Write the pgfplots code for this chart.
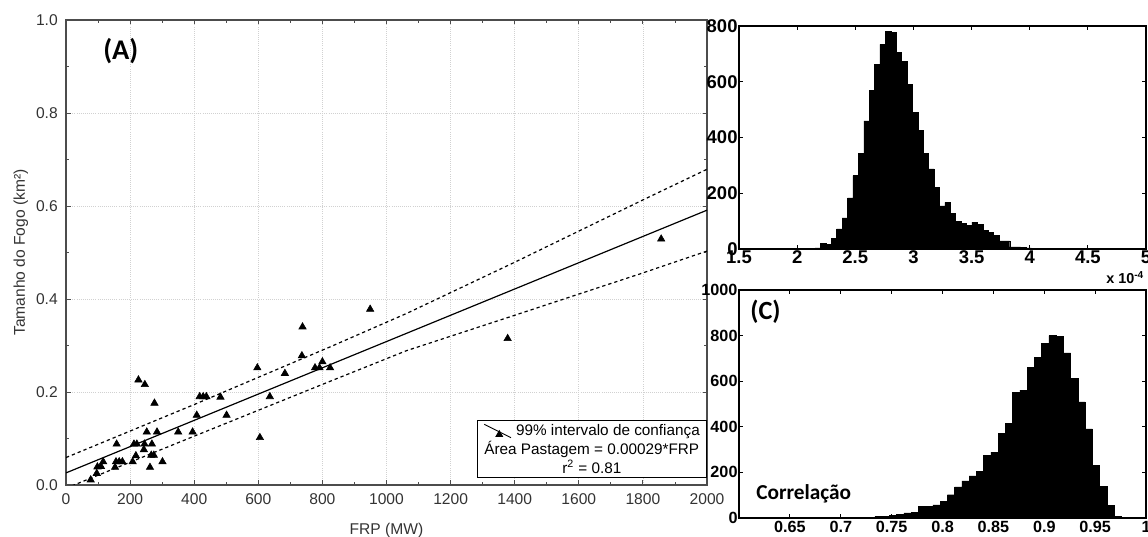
\documentclass[border=0pt]{standalone}
\usepackage{fontspec}
\setmainfont{Liberation Sans}
\newfontfamily\calibri{Carlito}
\usepackage{pgfplots}
\pgfplotsset{compat=1.18}

\begin{document}
\begin{tikzpicture}
% 1 pt = 1.5 px of the 1148x537 reference
\path[use as bounding box] (0pt,0pt) rectangle (765.33pt,358pt);

% ---------------- (A) scatter + regression ----------------
\begin{axis}[
  at={(44pt,34.67pt)}, anchor=south west,
  scale only axis, width=427.33pt, height=310pt,
  xmin=0, xmax=2000, ymin=0, ymax=1,
  xtick={0,200,...,2000}, ytick={0,0.2,0.4,0.6,0.8,1.0},
  minor x tick num=1, minor y tick num=1,
  tick align=inside, major tick length=3pt, minor tick length=2pt,
  grid=major, grid style={densely dotted, black!18, line width=0.5pt},
  axis line style={black!70, line width=0.9pt},
  tick style={black!70, line width=0.6pt},
  /pgf/number format/assume math mode=true,
  /pgf/number format/1000 sep={},
  yticklabel style={/pgf/number format/fixed, /pgf/number format/fixed zerofill,
                    /pgf/number format/precision=1, xshift=-2pt},
  tick label style={font=\fontsize{10.4}{12}\selectfont, text=black!80},
  xticklabel style={yshift=-2pt},
  label style={font=\fontsize{10.4}{12}\selectfont, text=black!80},
  xlabel={FRP (MW)}, ylabel={Tamanho do Fogo (km²)},
  xlabel style={at={(axis description cs:0.5,-0.1054)}, anchor=base},
  ylabel style={at={(axis description cs:-0.064,0.5)}, anchor=base},
]
\addplot[black, line width=0.8pt] coordinates {(0,0.026) (2000,0.591)};
\addplot[black, line width=0.8pt, dash pattern=on 2.2pt off 2pt] coordinates {
  (0,0.059) (400,0.173) (824,0.297) (1063,0.369) (1400,0.479) (1791,0.610) (2000,0.679)};
\addplot[black, line width=0.8pt, dash pattern=on 2.2pt off 2pt] coordinates {
  (0,-0.007) (400,0.105) (824,0.223) (1063,0.289) (1400,0.365) (1791,0.454) (2000,0.503)};
\addplot[only marks, mark=triangle*, mark size=2.8pt, mark options={fill=black, draw=black}] coordinates {
  (77,0.011) (96,0.025) (98,0.039) (109,0.040) (116,0.050)
  (153,0.038) (156,0.050) (158,0.088) (166,0.050) (176,0.050)
  (208,0.050) (212,0.088) (221,0.088) (218,0.063) (226,0.226)
  (246,0.216) (243,0.076) (245,0.088) (252,0.114) (262,0.038)
  (266,0.064) (268,0.088) (274,0.064) (276,0.176) (284,0.114)
  (301,0.050) (350,0.114) (395,0.114) (408,0.150) (417,0.190)
  (428,0.190) (438,0.190) (482,0.189) (501,0.150) (597,0.252)
  (605,0.102) (636,0.190) (683,0.240) (736,0.278) (738,0.340)
  (777,0.252) (791,0.252) (800,0.265) (824,0.252) (949,0.378)
  (1378,0.315) (1857,0.529)
};
\node[draw=black, line width=0.6pt, fill=white, anchor=south east, align=center,
      inner xsep=4.5pt, inner ysep=2.5pt, font=\fontsize{10.2}{12.7}\selectfont]
  (leg) at (rel axis cs:1,0.0157)
  {\hspace*{21.5pt}99\% intervalo de confiança\\Área Pastagem = 0.00029*FRP\\r\textsuperscript{2} = 0.81};
\end{axis}
% legend glyph: line with triangle
\draw[black, line width=0.6pt] ([shift={(5.1pt,-2.9pt)}]leg.north west) -- ([shift={(22.9pt,-11.8pt)}]leg.north west);
\fill[black] ([shift={(12.4pt,-11.3pt)}]leg.north west) -- ([shift={(17.8pt,-11.3pt)}]leg.north west)
  -- ([shift={(15.1pt,-6.6pt)}]leg.north west) -- cycle;

\node[anchor=base west, inner sep=0pt, font=\calibri\bfseries\fontsize{19}{22}\selectfont] at (68.67pt,318pt) {(A)};

% ---------------- top-right histogram ----------------
\begin{axis}[
  at={(492.67pt,192pt)}, anchor=south west,
  scale only axis, width=271.33pt, height=148.67pt,
  xmin=1.5, xmax=5, ymin=0, ymax=800,
  xtick={1.5,2,2.5,3,3.5,4,4.5,5}, ytick={0,200,400,600,800},
  tick align=inside, major tick length=2.7pt,
  axis line style={black, line width=0.7pt},
  tick style={black, line width=0.6pt},
  /pgf/number format/assume math mode=true,
  tick label style={font=\bfseries\fontsize{12.3}{14}\selectfont, inner sep=0.8pt},
  xticklabel style={yshift=-0.3pt},
]
\addplot[ybar interval, fill=black, draw=black, line width=0.3pt] coordinates {
  (2.061,3) (2.108,2) (2.154,4) (2.201,19) (2.247,17) (2.294,37) (2.340,72)
  (2.387,112) (2.433,183) (2.480,263) (2.526,343) (2.573,460) (2.619,568)
  (2.666,663) (2.712,734) (2.759,782) (2.805,776) (2.852,706) (2.898,672)
  (2.945,590) (2.991,489) (3.038,425) (3.084,343) (3.131,287) (3.177,220)
  (3.224,155) (3.270,167) (3.317,128) (3.363,100) (3.410,92) (3.456,84)
  (3.503,96) (3.549,89) (3.596,68) (3.642,60) (3.689,49) (3.735,29)
  (3.782,29) (3.828,8) (3.875,8) (3.921,5) (3.968,4) (4.014,2) (4.061,1)
  (4.107,1) (4.154,0) (4.200,1) (4.247,1) (4.293,0)
};
\end{axis}
\node[anchor=base west, inner sep=0pt, font=\bfseries\fontsize{9.6}{11}\selectfont] at (737.3pt,169pt) {x 10\textsuperscript{-4}};

% ---------------- bottom-right histogram (C) ----------------
\begin{axis}[
  at={(492.67pt,12.67pt)}, anchor=south west,
  scale only axis, width=271.33pt, height=152pt,
  xmin=0.6, xmax=1, ymin=0, ymax=1000,
  xtick={0.65,0.7,0.75,0.8,0.85,0.9,0.95,1}, ytick={0,200,400,600,800,1000},
  tick align=inside, major tick length=2.7pt,
  axis line style={black, line width=0.7pt},
  tick style={black, line width=0.6pt},
  /pgf/number format/assume math mode=true,
  /pgf/number format/1000 sep={},
  tick label style={font=\bfseries\fontsize{10.8}{12}\selectfont, inner sep=0.8pt},
  xticklabel style={yshift=-1pt},
]
\addplot[ybar interval, fill=black, draw=black, line width=0.3pt] coordinates {
  (0.6266,1) (0.6337,1) (0.6409,0) (0.6480,1) (0.6551,0) (0.6622,0) (0.6694,0)
  (0.6765,1) (0.6836,1) (0.6907,1) (0.6979,1) (0.7050,2) (0.7121,3) (0.7192,3)
  (0.7264,4) (0.7335,7) (0.7406,8) (0.7477,12) (0.7548,15) (0.7620,22)
  (0.7691,26) (0.7762,51) (0.7834,51) (0.7905,57) (0.7976,72) (0.8047,102)
  (0.8119,136) (0.8190,163) (0.8261,185) (0.8333,204) (0.8404,274) (0.8475,289)
  (0.8546,372) (0.8618,415) (0.8689,551) (0.8760,561) (0.8832,662) (0.8903,706)
  (0.8974,766) (0.9045,800) (0.9117,797) (0.9188,724) (0.9259,613) (0.9331,509)
  (0.9402,391) (0.9473,232) (0.9544,139) (0.9616,55) (0.9687,7) (0.9758,1)
  (0.9829,0)
};
\end{axis}
\node[anchor=base west, inner sep=0pt, font=\calibri\bfseries\fontsize{17.5}{20}\selectfont] at (500pt,144.67pt) {(C)};
\node[anchor=base west, inner sep=0pt, font=\calibri\bfseries\fontsize{14.2}{17}\selectfont] at (504pt,24.67pt) {Correlação};
\end{tikzpicture}
\end{document}
